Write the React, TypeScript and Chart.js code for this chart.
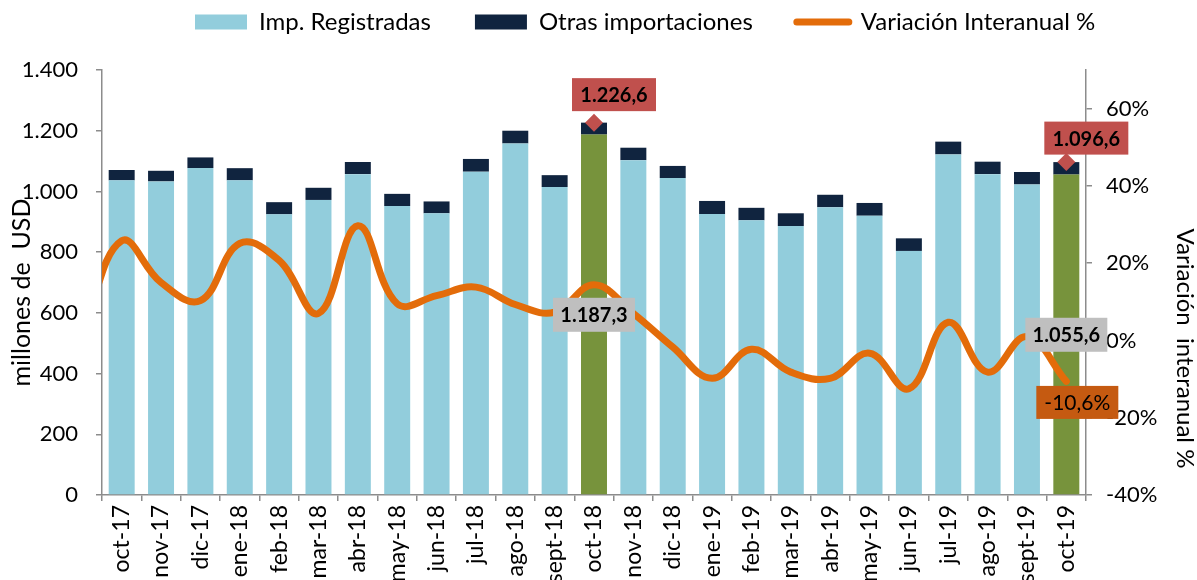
import React, { useEffect, useRef } from 'react';
import { Chart, registerables } from 'chart.js';

Chart.register(...registerables);

// ---------- data ----------
const categories = [
  'oct-17', 'nov-17', 'dic-17', 'ene-18', 'feb-18', 'mar-18', 'abr-18', 'may-18', 'jun-18',
  'jul-18', 'ago-18', 'sept-18', 'oct-18', 'nov-18', 'dic-18', 'ene-19', 'feb-19', 'mar-19',
  'abr-19', 'may-19', 'jun-19', 'jul-19', 'ago-19', 'sept-19', 'oct-19',
];
const registradas = [
  1036.6, 1033, 1077, 1036.6, 924.6, 972, 1057, 952, 928, 1065, 1158, 1014.6, 1187.3,
  1103, 1044, 925.6, 905, 886, 948, 920, 804, 1122, 1057, 1023, 1055.6,
];
const otras = [
  34, 35, 35, 40, 40, 40, 40, 40, 39, 42, 42, 39, 39.3,
  41, 40, 43, 41, 42, 41, 42, 41.5, 42, 41, 41, 41,
];
const variacion = [
  25.8, 15, 10.3, 25.1, 20.7, 7, 29.7, 9.5, 11.6, 13.8, 9.3, 7.3, 14.4,
  7, -1.7, -9.8, -2.3, -8.2, -9.8, -3.3, -12.5, 4.7, -8.2, 1, -10.6,
];
const variacionPrev = 2;
const highlightIdx = [12, 24];
const leftTicks = [0, 200, 400, 600, 800, 1000, 1200, 1400];
const rightTicks = [-40, -20, 0, 20, 40, 60];

// ---------- styles ----------
const LIGHT = '#92CDDC';
const DARK = '#10243F';
const GREEN = '#77933C';
const ORANGE = '#E36C0A';
const RED = '#C0504D';
const GRAY_BOX = '#BFBFBF';
const ORANGE_BOX = '#C55A11';
const AXIS = '#8C8C8C';
const FONT = 'Lato';

function fmtEs(n: number, dec = 0): string {
  const s = Math.abs(n).toFixed(dec);
  const [intPart, frac] = s.split('.');
  const grouped = intPart.replace(/\B(?=(\d{3})+(?!\d))/g, '.');
  return (n < 0 ? '-' : '') + grouped + (frac ? ',' + frac : '');
}

function drawBox(ctx: CanvasRenderingContext2D, text: string, cx: number, cy: number,
  w: number, h: number, bg: string, font: string) {
  ctx.save();
  ctx.fillStyle = bg;
  ctx.fillRect(cx - w / 2, cy - h / 2, w, h);
  ctx.fillStyle = '#000';
  ctx.font = font;
  ctx.textAlign = 'center';
  ctx.textBaseline = 'middle';
  ctx.fillText(text, cx, cy + 1);
  ctx.restore();
}

const LEGEND_PAD = 44;

const customPlugin = {
  id: 'custom',
  beforeLayout(chart: any) {
    const lg = chart.legend;
    if (lg && !lg.__wrapped) {
      const orig = lg.fit;
      lg.fit = function () {
        orig.call(this);
        this.height = 70;
      };
      lg.__wrapped = true;
    }
  },
  afterLayout(chart: any) {
    const lg = chart.legend;
    if (lg) {
      lg.left = 195 - LEGEND_PAD;
      lg.right = lg.left + chart.width;
      lg.top = 22 - 12 - LEGEND_PAD;
    }
  },
  afterDatasetsDraw(chart: any) {
    const { ctx, scales, chartArea } = chart;
    const x = scales.x, y = scales.y, y1 = scales.y1;
    const redOffsets = [-28, -24];
    highlightIdx.forEach((i, k) => {
      const px = x.getPixelForValue(i);
      const mid = (y.getPixelForValue(0) + y.getPixelForValue(registradas[i])) / 2;
      drawBox(ctx, fmtEs(registradas[i], 1), px, mid, 82, 34, GRAY_BOX, `bold 20px ${FONT}`);
      const total = registradas[i] + otras[i];
      const ty = y.getPixelForValue(total);
      drawBox(ctx, fmtEs(total, 1), px + 20, ty + redOffsets[k], 84, 33, RED, `bold 20px ${FONT}`);
    });
    const last = variacion.length - 1;
    const lx = scales.xl.getPixelForValue(last);
    const ly = y1.getPixelForValue(variacion[last]);
    drawBox(ctx, fmtEs(variacion[last], 1) + '%', lx + 11, ly + 21, 82, 33, ORANGE_BOX, `21px ${FONT}`);

    ctx.save();
    ctx.fillStyle = '#000';
    ctx.font = `25px ${FONT}`;
    ctx.textAlign = 'center';
    ctx.textBaseline = 'middle';
    ctx.translate(22, (chartArea.top + chartArea.bottom) / 2 + 10);
    ctx.rotate(-Math.PI / 2);
    ctx.fillText('millones de  USD', 0, 0);
    ctx.restore();
    ctx.save();
    ctx.fillStyle = '#000';
    ctx.font = `24px ${FONT}`;
    ctx.textAlign = 'center';
    ctx.textBaseline = 'middle';
    ctx.translate(1185, (chartArea.top + chartArea.bottom) / 2 + 66);
    ctx.rotate(Math.PI / 2);
    ctx.fillText('Variación  interanual %', 0, 0);
    ctx.restore();
  },
};

export default function App() {
  const ref = useRef<HTMLCanvasElement | null>(null);

  useEffect(() => {
    if (!ref.current) return;
    const hl = new Set(highlightIdx);
    const lightColors = categories.map((_, i) => (hl.has(i) ? GREEN : LIGHT));
    const totals = highlightIdx.map((i) => ({ x: i, y: registradas[i] + otras[i] }));
    const lineData = [{ x: -1, y: variacionPrev }, ...variacion.map((v, i) => ({ x: i, y: v }))];

    Chart.defaults.font.family = FONT;
    Chart.defaults.color = '#000';

    const chart = new Chart(ref.current, {
      type: 'bar',
      data: {
        labels: categories,
        datasets: [
          {
            type: 'bar', label: 'Imp. Registradas', data: registradas, backgroundColor: lightColors,
            xAxisID: 'x', yAxisID: 'y', order: 3, grouped: false, barPercentage: 0.66, categoryPercentage: 1,
          } as any,
          {
            type: 'bar', label: 'Otras importaciones', data: otras, backgroundColor: DARK,
            xAxisID: 'x', yAxisID: 'y', order: 3, grouped: false, barPercentage: 0.66, categoryPercentage: 1,
          },
          {
            type: 'line', label: 'Variación Interanual %', data: lineData, xAxisID: 'xl', yAxisID: 'y1',
            borderColor: ORANGE, backgroundColor: ORANGE, borderWidth: 7, pointRadius: 0, tension: 0.4,
            fill: false, borderCapStyle: 'round', borderJoinStyle: 'round', order: 2,
            clip: { left: 0, right: false, top: false, bottom: false },
          },
          {
            type: 'line', label: 'Total', data: totals, xAxisID: 'xl', yAxisID: 'yt',
            showLine: false, pointStyle: 'rectRot', pointRadius: 9, pointBackgroundColor: RED,
            pointBorderWidth: 0, pointBorderColor: RED, order: 1,
          },
        ],
      },
      options: {
        animation: false,
        responsive: false,
        events: [],
        layout: { padding: 0 },
        plugins: {
          tooltip: { enabled: false },
          legend: {
            display: true,
            position: 'top',
            align: 'start',
            labels: {
              usePointStyle: true,
              pointStyleWidth: 52,
              boxHeight: 15,
              padding: LEGEND_PAD,
              color: '#000',
              font: { size: 24, family: FONT },
              generateLabels: () => [
                { text: 'Imp. Registradas', fillStyle: LIGHT, strokeStyle: LIGHT, lineWidth: 0, pointStyle: 'rect', hidden: false, datasetIndex: 0 },
                { text: 'Otras importaciones', fillStyle: DARK, strokeStyle: DARK, lineWidth: 0, pointStyle: 'rect', hidden: false, datasetIndex: 1 },
                { text: 'Variación Interanual %', fillStyle: ORANGE, strokeStyle: ORANGE, lineWidth: 7, lineCap: 'round', pointStyle: 'line', hidden: false, datasetIndex: 2 },
              ] as any,
            },
          },
        },
        scales: {
          x: {
            type: 'category', stacked: true, offset: true,
            grid: { display: true, drawOnChartArea: false, drawTicks: true, tickLength: 6, color: AXIS, lineWidth: 1.5, offset: true },
            border: { display: true, color: AXIS, width: 1.5 },
            ticks: { color: '#000', font: { size: 23 }, minRotation: 90, maxRotation: 90, autoSkip: false, padding: 4 },
            afterFit: (s: any) => { s.height = 105; },
          },
          xl: {
            type: 'linear', display: true, position: 'bottom', offset: false, bounds: 'data', grace: 0,
            min: -0.5, max: 24.5,
            grid: { display: false, drawTicks: false },
            border: { display: false },
            ticks: { display: false },
            afterFit: (s: any) => { s.height = 0; },
          },
          y: {
            type: 'linear', position: 'left', stacked: true, min: 0, max: 1400,
            afterBuildTicks: (s: any) => { s.ticks = leftTicks.map((v) => ({ value: v })); },
            grid: { drawOnChartArea: false, drawTicks: true, tickLength: 6, color: AXIS, lineWidth: 1.5 },
            border: { display: true, color: AXIS, width: 1.5 },
            ticks: { color: '#000', font: { size: 22 }, padding: 18, callback: (v: any) => fmtEs(Number(v)) },
            afterFit: (s: any) => { s.width = 102; },
          },
          yt: {
            type: 'linear', display: true, position: 'left', min: 0, max: 1400, bounds: 'data', grace: 0,
            grid: { display: false, drawTicks: false },
            border: { display: false },
            ticks: { display: false },
            afterFit: (s: any) => { s.width = 0; },
          },
          y1: {
            type: 'linear', position: 'right', min: -40, max: 70,
            afterBuildTicks: (s: any) => { s.ticks = rightTicks.map((v) => ({ value: v })); },
            grid: { drawOnChartArea: false, drawTicks: true, tickLength: 6, color: AXIS, lineWidth: 1.5 },
            border: { display: true, color: AXIS, width: 1.5 },
            ticks: { color: '#000', font: { size: 22 }, padding: 14, callback: (v: any) => `${v}%` },
            afterFit: (s: any) => { s.width = 111; },
          },
        },
      } as any,
      plugins: [customPlugin as any],
    });
    return () => chart.destroy();
  }, []);

  return (
    <div style={{ position: 'fixed', left: 0, top: 0, width: 1197, height: 580, overflow: 'hidden', background: '#fff' }}>
      <canvas ref={ref} width={1197} height={600} style={{ display: 'block' }} />
    </div>
  );
}
